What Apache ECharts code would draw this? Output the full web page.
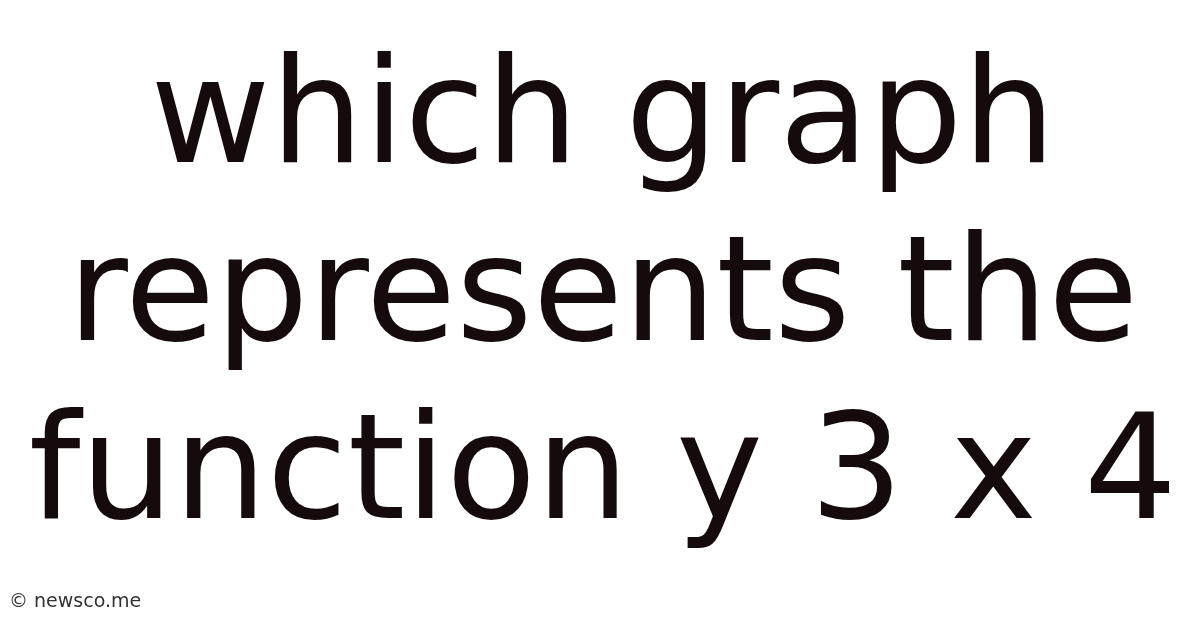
<!DOCTYPE html>
<html>
<head>
<meta charset="utf-8">
<script src="https://cdn.jsdelivr.net/npm/echarts@6/dist/echarts.min.js"></script>
<style>
  html, body { margin: 0; padding: 0; background: #fff; }
  #container { width: 1200px; height: 628px; }
</style>
</head>
<body>
<div id="container"></div>
<script>
// headline lines and footer text
var titleLines = ['which graph', 'represents the', 'function y 3 x 4'];
var footerText = ['\u00a9 newsco.me'];

var dom = document.getElementById("container");
var myChart = echarts.init(dom);

var lineTop = 124;
var lineGap = 178;

var elements = titleLines.map(function (txt, i) {
    return {
        type: 'text',
        x: 603,
        y: lineTop + i * lineGap,
        style: {
            text: txt,
            fill: '#150b0c',
            font: '147px "DejaVu Sans"',
            align: 'center',
            verticalAlign: 'middle'
        }
    };
});

elements.push({
    type: 'text',
    x: 9,
    y: 602,
    style: {
        text: footerText[0],
        fill: '#333333',
        font: '19px "DejaVu Sans"',
        align: 'left',
        verticalAlign: 'middle'
    }
});

var option = {
    backgroundColor: '#ffffff',
    graphic: { elements: elements }
};

myChart.setOption(option);
</script>
</body>
</html>
